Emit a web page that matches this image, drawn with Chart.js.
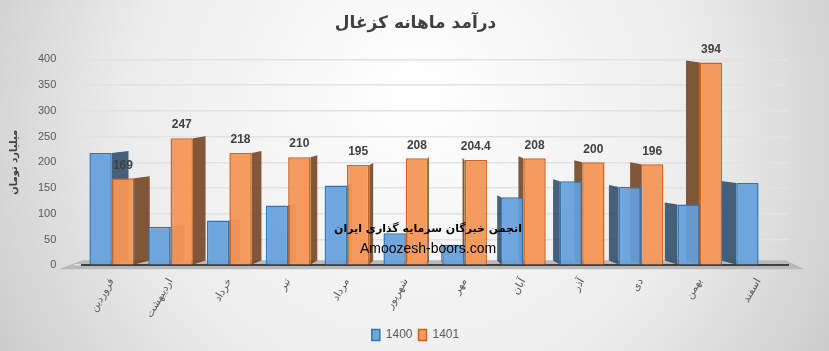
<!DOCTYPE html>
<html>
<head>
<meta charset="utf-8">
<script src="https://cdn.jsdelivr.net/npm/chart.js@4"></script>
<style>
  html, body { margin: 0; padding: 0; }
  body { width: 829px; height: 351px; overflow: hidden; }
  #wrap { width: 829px; height: 351px; }
</style>
</head>
<body>
<div id="wrap"><canvas id="myChart"></canvas></div>
<script>
// months of the year (Persian calendar)
var months = ['فروردین', 'اردیبهشت', 'خرداد', 'تیر', 'مرداد', 'شهریور', 'مهر', 'آبان', 'آذر', 'دی', 'بهمن', 'اسفند'];
// revenue in billion toman
var sales1400 = [218, 75, 87, 116, 155, 62, 40, 132, 163, 152, 118, 160];
var sales1401 = [169, 247, 218, 210, 195, 208, 204.4, 208, 200, 196, 394, null];
var yTicks = [0, 50, 100, 150, 200, 250, 300, 350, 400];

var persianFont = "'DejaVu Sans', sans-serif";

// grey radial background like the excel chart
var bgPlugin = {
    id: 'bg',
    beforeDraw: function (chart) {
        var ctx = chart.ctx;
        var w = chart.width, h = chart.height;
        var g = ctx.createRadialGradient(w * 0.5, h * 0.25, 10, w * 0.5, h * 0.4, w * 0.62);
        g.addColorStop(0, '#ffffff');
        g.addColorStop(0.55, '#ececec');
        g.addColorStop(1, '#c4c4c4');
        ctx.save();
        ctx.fillStyle = g;
        ctx.fillRect(0, 0, w, h);
        // floor under the bars
        var a = chart.chartArea;
        ctx.fillStyle = '#b9b9b9';
        ctx.beginPath();
        ctx.moveTo(a.left - 24, a.bottom + 4);
        ctx.lineTo(a.right + 16, a.bottom + 4);
        ctx.lineTo(a.right - 2, a.bottom - 5);
        ctx.lineTo(a.left, a.bottom - 5);
        ctx.closePath();
        ctx.fill();
        // legend box
        var lg = chart.legend;
        ctx.fillStyle = 'rgba(240,240,240,0.9)';
        ctx.fillRect(lg.legendHitBoxes[0].left - 8, 322, 92, 25);
        ctx.restore();
    }
};

// fake depth face on each bar
var depthPlugin = {
    id: 'depth',
    beforeDatasetsDraw: function (chart) {
        var ctx = chart.ctx;
        var mid = (chart.chartArea.left + chart.chartArea.right) / 2;
        ctx.save();
        chart.data.datasets.forEach(function (ds, i) {
            var meta = chart.getDatasetMeta(i);
            meta.data.forEach(function (bar, j) {
                if (ds.data[j] == null) return;
                var half = bar.width / 2;
                var dx = -(bar.x - mid) / 20;
                var left = bar.x - half, right = bar.x + half;
                ctx.fillStyle = i == 0 ? 'rgba(40,70,100,0.85)' : 'rgba(110,60,25,0.85)';
                ctx.beginPath();
                var edge = dx >= 0 ? right : left;
                ctx.moveTo(edge, bar.y);
                ctx.lineTo(edge + dx, bar.y - 2);
                ctx.lineTo(edge + dx, bar.base - 4);
                ctx.lineTo(edge, bar.base);
                ctx.closePath();
                ctx.fill();
            });
        });
        ctx.restore();
    }
};

// value labels above the 1401 bars and the watermark
var labelPlugin = {
    id: 'labels',
    afterDatasetsDraw: function (chart) {
        var ctx = chart.ctx;
        var meta = chart.getDatasetMeta(1);
        ctx.save();
        ctx.fillStyle = '#404040';
        ctx.font = 'bold 12px "Liberation Sans", Arial, sans-serif';
        ctx.textAlign = 'center';
        ctx.textBaseline = 'middle';
        meta.data.forEach(function (bar, j) {
            var v = sales1401[j];
            if (v == null) return;
            ctx.fillText(String(v), bar.x, bar.y - 13);
        });
        ctx.fillStyle = '#000000';
        ctx.font = 'bold 11px ' + persianFont;
        ctx.fillText('انجمن خبرگان سرمایه گذاری ایران', 428, 229);
        ctx.font = '14px "Liberation Sans", Arial, sans-serif';
        ctx.fillText('Amoozesh-boors.com', 428, 249);
        ctx.restore();
    }
};

var myChart = new Chart(document.getElementById('myChart'), {
    type: 'bar',
    data: {
        labels: months,
        datasets: [{
            label: '1400',
            backgroundColor: 'rgba(100,160,220,0.92)',
            borderColor: '#2E75B6',
            borderWidth: 1.5,
            data: sales1400
        }, {
            label: '1401',
            backgroundColor: 'rgba(246,150,85,0.95)',
            borderColor: '#D0621A',
            borderWidth: 1.5,
            data: sales1401
        }]
    },
    options: {
        responsive: true,
        maintainAspectRatio: false,
        animation: false,
        layout: {
            padding: { left: 8, right: 6, top: 6, bottom: 0 }
        },
        datasets: {
            bar: { categoryPercentage: 0.76, barPercentage: 1 }
        },
        plugins: {
            title: {
                display: true,
                text: 'درآمد ماهانه کزغال',
                color: '#404040',
                font: { family: persianFont, size: 17, weight: 'bold' },
                padding: { top: 7, bottom: 26 }
            },
            legend: {
                display: true,
                position: 'bottom',
                labels: {
                    boxWidth: 8,
                    boxHeight: 11,
                    padding: 6,
                    color: '#595959',
                    font: { family: "'Liberation Sans Narrow', 'Liberation Sans', sans-serif", size: 12 }
                }
            },
            tooltip: { enabled: false }
        },
        scales: {
            x: {
                grid: { display: false },
                border: { color: '#404040', width: 2 },
                ticks: {
                    color: '#595959',
                    minRotation: 60,
                    maxRotation: 60,
                    font: { family: persianFont, size: 10.5 }
                }
            },
            y: {
                min: 0,
                max: 400,
                afterBuildTicks: function (axis) {
                    axis.ticks = yTicks.map(function (v) { return { value: v }; });
                },
                grid: { color: '#e2e2e2', lineWidth: 1.5 },
                border: { display: false },
                ticks: {
                    color: '#595959',
                    padding: 18,
                    font: { family: "'Liberation Sans', Arial, sans-serif", size: 11 }
                },
                title: {
                    display: true,
                    text: 'میلیارد تومان',
                    color: '#404040',
                    font: { family: persianFont, size: 10, weight: 'bold' },
                    padding: { top: 0, bottom: 0 }
                }
            },
            // empty axis that only keeps room on the right side
            yRight: {
                position: 'right',
                grid: { display: false },
                border: { display: false },
                ticks: { display: false },
                afterFit: function (axis) { axis.width = 35; }
            }
        }
    },
    plugins: [bgPlugin, depthPlugin, labelPlugin]
});
</script>
</body>
</html>
